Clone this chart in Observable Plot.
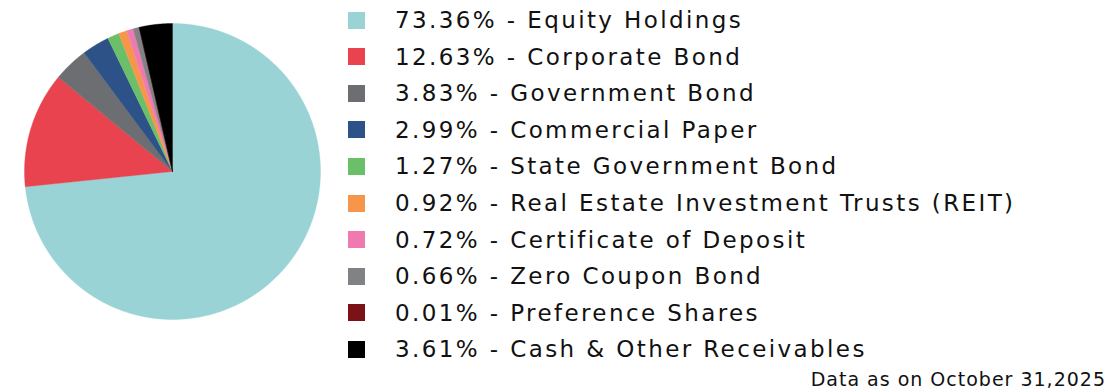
<!DOCTYPE html>
<html>
<head>
<meta charset="utf-8">
<script src="https://cdn.jsdelivr.net/npm/d3@7"></script>
<script src="https://cdn.jsdelivr.net/npm/@observablehq/plot@0.6"></script>
<style>
  html, body { margin: 0; padding: 0; background: #fff; }
  #wrap { position: relative; width: 1116px; height: 391px; overflow: hidden; font-family: "DejaVu Sans", sans-serif; }
  #chart { position: absolute; left: 0; top: 0; }
  #legend { position: absolute; left: 348px; top: 2px; }
  .row { display: flex; align-items: center; height: 36.56px; }
  .sw { width: 17px; height: 17px; margin-right: 30px; flex: none; }
  .lbl { font-size: 23px; letter-spacing: 2.4px; color: #111; white-space: nowrap; }
  #foot { position: absolute; right: 10px; top: 368px; font-size: 19px; letter-spacing: 1px; color: #111; white-space: nowrap; }
</style>
</head>
<body>
<div id="wrap">
  <div id="chart"></div>
  <div id="legend"></div>
  <div id="foot"></div>
</div>
<script>
const categories = ["Equity Holdings", "Corporate Bond", "Government Bond", "Commercial Paper", "State Government Bond", "Real Estate Investment Trusts (REIT)", "Certificate of Deposit", "Zero Coupon Bond", "Preference Shares", "Cash & Other Receivables"];
const values = [73.36, 12.63, 3.83, 2.99, 1.27, 0.92, 0.72, 0.66, 0.01, 3.61];
const colors = ["#9AD3D5", "#E8434E", "#6D6E71", "#2C5288", "#6BBF69", "#F7964B", "#EF7AB0", "#808285", "#7A1218", "#000000"];
const footnote = "Data as on October 31,2025";

const slices = categories.map((name, i) => ({name, value: values[i], color: colors[i]}));
const arcs = d3.pie().sort(null).value(d => d.value)(slices);

// polygon vertices for each slice (unit circle, clockwise from 12 o'clock)
const pts = [];
for (const a of arcs) {
  const n = Math.max(2, Math.ceil((a.endAngle - a.startAngle) / 0.005));
  pts.push({name: a.data.name, color: a.data.color, x: 0, y: 0});
  for (let k = 0; k <= n; k++) {
    const t = a.startAngle + (a.endAngle - a.startAngle) * k / n;
    pts.push({name: a.data.name, color: a.data.color, x: Math.sin(t), y: Math.cos(t)});
  }
  pts.push({name: a.data.name, color: a.data.color, x: 0, y: 0});
}

const chart = Plot.plot({
  width: 344,
  height: 342,
  marginLeft: 24, marginRight: 24, marginTop: 23, marginBottom: 23,
  x: {domain: [-1, 1], axis: null},
  y: {domain: [-1, 1], axis: null},
  color: {type: "identity"},
  marks: [
    Plot.line(pts, {x: "x", y: "y", z: "name", fill: "color", stroke: "color", strokeWidth: 0.4, curve: "linear"})
  ]
});
document.getElementById("chart").appendChild(chart);

const legend = document.getElementById("legend");
slices.forEach(s => {
  const row = document.createElement("div");
  row.className = "row";
  const sw = document.createElement("div");
  sw.className = "sw";
  sw.style.background = s.color;
  const lbl = document.createElement("div");
  lbl.className = "lbl";
  lbl.textContent = `${s.value.toFixed(2)}% - ${s.name}`;
  row.appendChild(sw);
  row.appendChild(lbl);
  legend.appendChild(row);
});
document.getElementById("foot").textContent = footnote;
</script>
</body>
</html>
